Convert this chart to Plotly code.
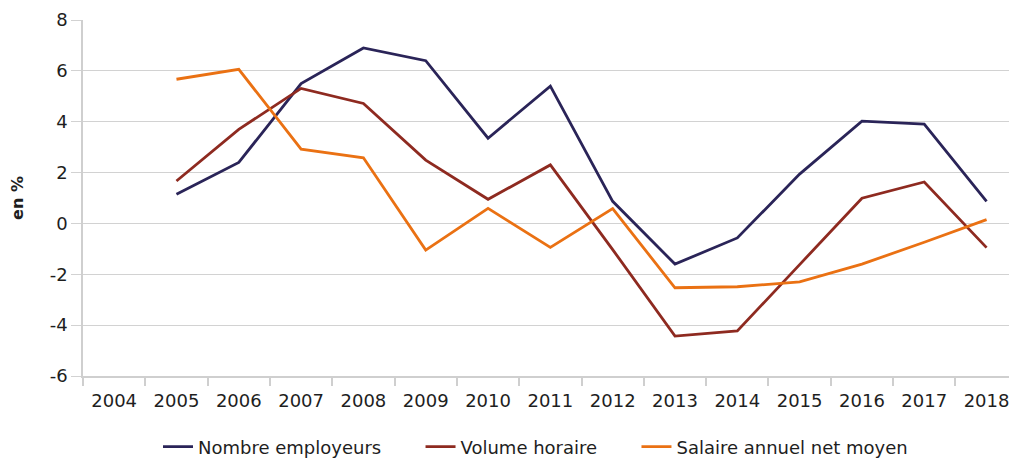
import plotly.graph_objects as go

years = [str(y) for y in range(2004, 2019)]
employeurs = [None, 1.15, 2.4, 5.5, 6.9, 6.4, 3.35, 5.4, 0.87, -1.6, -0.57, 1.94, 4.02, 3.91, 0.87]
volume = [None, 1.67, 3.7, 5.31, 4.72, 2.49, 0.95, 2.3, -1.03, -4.43, -4.23, -1.62, 0.99, 1.63, -0.95]
salaire = [None, 5.67, 6.06, 2.92, 2.58, -1.05, 0.59, -0.94, 0.58, -2.53, -2.49, -2.3, -1.6, -0.74, 0.15]
y_ticks = [-6, -4, -2, 0, 2, 4, 6, 8]
y_ticktext = ["-6", "-4", "-2", "0", "2", "4", "6", "8"]

PAD = "\u00a0" * 6
series = [
    ("Nombre employeurs", employeurs, "#2a2458"),
    ("Volume horaire", volume, "#8e2a20"),
    ("Salaire annuel net moyen", salaire, "#ea7113"),
]

W, H = 1009, 459
FONT = "DejaVu Sans"
fig = go.Figure()
for name, vals, col in series:
    fig.add_trace(go.Scatter(x=years, y=vals, name=name + PAD, mode="lines",
                             line=dict(color=col, width=2.8), connectgaps=False))

fig.update_layout(
    width=W, height=H,
    margin=dict(l=83, r=0, t=20, b=H - 376, autoexpand=False),
    paper_bgcolor="white", plot_bgcolor="white",
    font=dict(family=FONT, size=18, color="#1e1e1e"),
    showlegend=True,
    legend=dict(orientation="h", xref="container", yref="container",
                x=158 / W, xanchor="left", y=(H - 447) / H, yanchor="middle",
                font=dict(family=FONT, size=18, color="#1e1e1e"),
                bgcolor="rgba(0,0,0,0)", borderwidth=0),
)
fig.update_xaxes(
    type="category", range=[-0.5, 14.36], automargin=False,
    showgrid=False, showline=True, linecolor="#cfcfcf", linewidth=1.5,
    ticks="outside", tickson="boundaries", ticklen=8, tickcolor="#cfcfcf", tickwidth=1.5,
    ticklabelstandoff=8,
    tickfont=dict(family=FONT, size=18, color="#1e1e1e"),
)
fig.update_yaxes(
    range=[-6, 8], tickvals=y_ticks, ticktext=y_ticktext, automargin=False,
    showgrid=True, gridcolor="#d2d2d2", gridwidth=1.2, zeroline=False,
    showline=True, linecolor="#cfcfcf", linewidth=1.5,
    ticks="outside", ticklen=10, tickcolor="#d2d2d2", tickwidth=1.2,
    tickfont=dict(family=FONT, size=18, color="#1e1e1e"),
    title=dict(text="<b>en %</b>", font=dict(family=FONT, size=16, color="#1e1e1e"), standoff=22),
)

fig.write_html(
    "out.html",
    config={"displayModeBar": False},
    post_script="document.body.style.margin='0';document.body.style.overflow='hidden';",
)
